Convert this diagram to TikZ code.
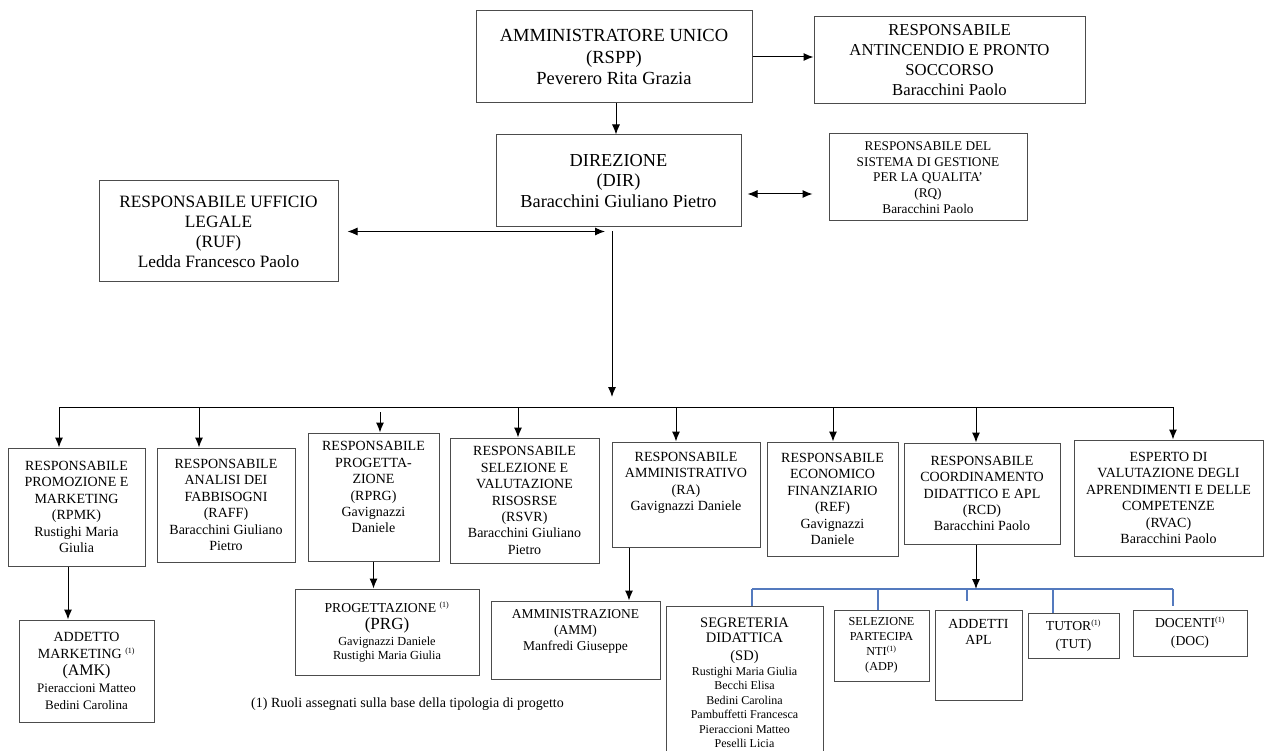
\documentclass[tikz,border=0pt]{standalone}
\usepackage{fontspec}
\setmainfont{Liberation Serif}
\usepackage{tikz}
\usetikzlibrary{shapes,arrows.meta,positioning}
\definecolor{boxgray}{rgb}{.3,.3,.3}
\definecolor{busblue}{RGB}{84,122,190}
\newcommand\setfs[2]{\fontsize{#1}{#2}\selectfont}
\newcommand\refuno{\textsuperscript{\setfs{8}{8}(1)}}

\begin{document}
\begin{tikzpicture}[x=1pt,y=-1pt,% one unit per pixel, y pointing down
		every node/.style={align=center, inner sep=0pt},	% "\\" breaks the lines
		box/.style={rectangle,draw=boxgray,line width=1pt},
		sz/.style 2 args={minimum width=#1,minimum height=#2},
		mid/.style={box,font=\setfs{14}{16.4}},
		link/.style={draw,line width=1pt,-{Latex[length=10pt,width=8pt]}},
		twoway/.style={draw,line width=1pt,{Latex[length=10pt,width=8pt]}-{Latex[length=10pt,width=8pt]}},
		bline/.style={draw=busblue,line width=1.15pt}
	]
	\fill[white] (0,0) rectangle (1264,751);
	\useasboundingbox (0,0) rectangle (1264,751);

	% top of the chart
	\node[box,sz={276}{92},font=\setfs{18.5}{21.5}] (AU) at (614,57) {AMMINISTRATORE UNICO\\(RSPP)\\Peverero Rita Grazia};
	\node[box,sz={271}{87},font=\setfs{16.7}{20}] (RAPS) at (949.5,60.5) {RESPONSABILE\\ANTINCENDIO E PRONTO\\SOCCORSO\\Baracchini Paolo};
	\node[box,sz={245}{92},font=\setfs{18.3}{20.5}] (DIR) at (618.5,181) {DIREZIONE\\(DIR)\\Baracchini Giuliano Pietro};
	\node[box,sz={198}{87},font=\setfs{13.3}{15.7}] (RQ) at (928,177.5) {RESPONSABILE DEL\\SISTEMA DI GESTIONE\\PER LA QUALITA'\\(RQ)\\Baracchini Paolo};
	\node[box,sz={239}{101},font=\setfs{17.3}{20}] (RUF) at (218.5,231.5) {RESPONSABILE UFFICIO\\LEGALE\\(RUF)\\Ledda Francesco Paolo};

	% responsabili
	\node[mid,sz={137}{118}] (RPMK) at (76.5,507) {RESPONSABILE\\PROMOZIONE E\\MARKETING\\(RPMK)\\Rustighi Maria\\Giulia};
	\node[mid,sz={138}{114}] (RAFF) at (226,505) {RESPONSABILE\\ANALISI DEI\\FABBISOGNI\\(RAFF)\\Baracchini Giuliano\\Pietro};
	\node[mid,sz={131}{128}] (RPRG) at (373.5,497) {RESPONSABILE\\PROGETTA-\\ZIONE\\(RPRG)\\Gavignazzi\\Daniele\\[3pt]\mbox{}};
	\node[mid,sz={149}{125}] (RSVR) at (524.5,500.5) {RESPONSABILE\\SELEZIONE E\\VALUTAZIONE\\RISOSRSE\\(RSVR)\\Baracchini Giuliano\\Pietro};
	\node[mid,sz={148}{105}] (RA) at (686,494.5) {RESPONSABILE\\AMMINISTRATIVO\\(RA)\\Gavignazzi Daniele\\[10pt]\mbox{}};
	\node[mid,sz={131}{114}] (REF) at (832.5,499) {RESPONSABILE\\ECONOMICO\\FINANZIARIO\\(REF)\\Gavignazzi\\Daniele};
	\node[mid,sz={156}{101}] (RCD) at (982,493.5) {RESPONSABILE\\COORDINAMENTO\\DIDATTICO E APL\\(RCD)\\Baracchini Paolo};
	\node[mid,sz={189}{116}] (RVAC) at (1168.5,498) {ESPERTO DI\\VALUTAZIONE DEGLI\\APRENDIMENTI E DELLE\\COMPETENZE\\(RVAC)\\Baracchini Paolo};

	% addetti
	\node[box,sz={135}{102},font=\setfs{14}{17}] (AMK) at (86.5,671) {ADDETTO\\MARKETING \refuno\\{\setfs{16}{17}(AMK)}\\{\setfs{13}{17}Pieraccioni Matteo}\\{\setfs{13}{17}Bedini Carolina}};
	\node[box,sz={184}{86},font=\setfs{13.7}{16.5}] (PRG) at (387,632) {PROGETTAZIONE \refuno\\{\setfs{17}{17}(PRG)}\\{\setfs{12.3}{15}Gavignazzi Daniele}\\[-2.5pt]{\setfs{12.3}{15}Rustighi Maria Giulia}};
	\node[box,sz={169}{78},font=\setfs{13.5}{16}] (AMM) at (575.5,640) {AMMINISTRAZIONE\\(AMM)\\Manfredi Giuseppe\\[3pt]\mbox{}};
	\node[box,sz={157}{154},font=\setfs{14.5}{14.5}] (SD) at (744.5,683) {SEGRETERIA\\[0.5pt]DIDATTICA\\[3.5pt](SD)\\{\setfs{12}{14}Rustighi Maria Giulia}\\{\setfs{12}{14}Becchi Elisa}\\{\setfs{12}{14}Bedini Carolina}\\{\setfs{12}{14}Pambuffetti Francesca}\\{\setfs{12}{14}Pieraccioni Matteo}\\{\setfs{12}{14}Peselli Licia}};
	\node[box,sz={95}{71},font=\setfs{12.2}{15}] (ADP) at (881.5,645.5) {SELEZIONE\\PARTECIPA\\NTI\refuno\\(ADP)};
	\node[box,sz={87}{90},font=\setfs{13.9}{16}] (APL) at (978.5,655) {ADDETTI\\APL\\[31pt]\mbox{}};
	\node[box,sz={91}{45},font=\setfs{13.7}{18}] (TUT) at (1073.5,635.5) {TUTOR\refuno\\(TUT)};
	\node[box,sz={114}{46},font=\setfs{13.7}{18}] (DOC) at (1190,633) {DOCENTI\refuno\\(DOC)};

	\node[anchor=west,font=\setfs{14}{16}] (nota) at (251,704) {(1) Ruoli assegnati sulla base della tipologia di progetto};

	% connectors
	\coordinate (bus) at (612,407);
	\coordinate (busL) at (59,407);
	\coordinate (busR) at (1173,407);
	\coordinate (bbus) at (976,589);
	\coordinate (bbusL) at (752,589);
	\coordinate (bbusR) at (1173,589);

	\draw[link] (AU.east) -- (AU.east -| RAPS.west);
	\draw[link] ([xshift=2pt]AU.south) -- ([xshift=2pt]AU.south |- DIR.north);
	\draw[twoway,shorten <=6pt,shorten >=16pt] ([yshift=-13pt]DIR.east) -- ([yshift=-13pt]DIR.east -| RQ.west);
	\draw[link,shorten <=4pt,shorten >=10pt] (bus |- DIR.south) -- (bus);
	\draw[twoway,shorten <=9pt,shorten >=7pt] (RUF.east) -- (RUF.east -| bus);
	\draw[line width=1pt] (busL) -- (busR);
	\foreach \n/\dx in {RPMK/-17.5,RAFF/-27,RSVR/-6.5,RA/-10,REF/0.5,RCD/-6,RVAC/4.5}{
		\coordinate (drop) at ([xshift=\dx pt]\n.north);
		\draw[link] (drop |- busL) -- (drop);
	}
	\coordinate (drop) at ([xshift=6.5pt]RPRG.north);
	\draw[link,shorten <=5pt] (drop |- busL) -- (drop);

	\draw[link] ([xshift=-8.5pt]RPMK.south) -- ([xshift=-8.5pt]RPMK.south |- AMK.north);
	\draw[link] (RPRG.south) -- (RPRG.south |- PRG.north);
	\draw[link] ([xshift=-57pt]RA.south) -- ([xshift=-57pt]RA.south |- AMM.north);

	\draw[bline] (bbusL) -- (bbusR);
	\foreach \n/\dx/\gap in {SD/7.5/0,ADP/-3.5/0,APL/-11.5/9,TUT/-20.5/0,DOC/-17/4}{
		\coordinate (drop) at ([xshift=\dx pt]\n.north);
		\draw[bline,shorten >=\gap pt] (drop |- bbusL) -- (drop);
	}
	\draw[link] ([xshift=-6pt]RCD.south) -- ([xshift=-6pt]RCD.south |- bbus);
\end{tikzpicture}
\end{document}
